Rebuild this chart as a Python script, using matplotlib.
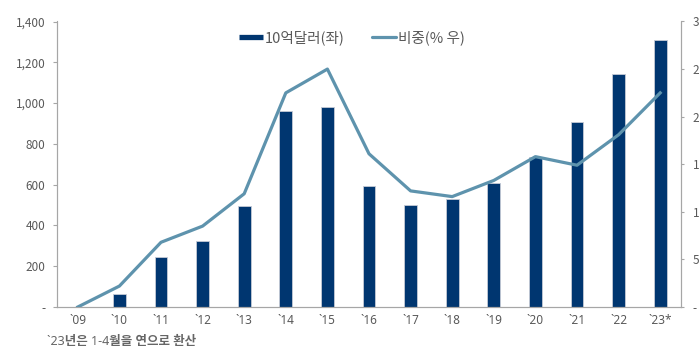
import matplotlib
matplotlib.use("Agg")
import matplotlib.pyplot as plt
from matplotlib.lines import Line2D

plt.rcParams['font.family'] = ['Noto Sans CJK KR', 'DejaVu Sans']

categories = ["`09", "`10", "`11", "`12", "`13", "`14", "`15", "`16", "`17", "`18",
              "`19", "`20", "`21", "`22", "`23*"]
amount = [0, 64, 245, 325, 495, 962, 982, 594, 500, 531, 606, 737, 905, 1141, 1310]
share = [0, 2.2, 6.8, 8.5, 11.9, 22.5, 25.0, 16.1, 12.2, 11.6, 13.3, 15.8, 14.9, 18.1, 22.5]
left_ticks = [0, 200, 400, 600, 800, 1000, 1200, 1400]
left_labels = ["-", "200", "400", "600", "800", "1,000", "1,200", "1,400"]
right_ticks = [0, 5, 10, 15, 20, 25, 30]
right_labels = ["-", "5", "10", "15", "20", "25", "30"]

bar_color = '#003670'
line_color = '#5e93ad'
text_color = '#595959'
spine_color = '#a6a6a6'

fig = plt.figure(figsize=(6.99, 3.6), dpi=100)
ax = fig.add_axes([57/699, 1-307/360, (681-57)/699, (307-21.5)/360])
x = list(range(len(categories)))
ax.bar(x, amount, width=0.31, color=bar_color, edgecolor='#c5cad6', linewidth=0.6, zorder=2)
ax.set_xlim(-0.5, len(categories)-0.5)
ax.set_ylim(0, 1400)
ax.set_yticks(left_ticks)
ax.set_yticklabels(left_labels)
ax.set_xticks(x)
ax.set_xticklabels(categories, family=['Noto Sans', 'DejaVu Sans'])

ax2 = ax.twinx()
ax2.plot(x, share, color=line_color, linewidth=2.3, zorder=3)
ax2.set_ylim(0, 30)
ax2.set_yticks(right_ticks)
ax2.set_yticklabels(right_labels)

for a in (ax, ax2):
    a.spines['top'].set_visible(False)
    for s in ('left', 'right', 'bottom'):
        a.spines[s].set_color(spine_color)
        a.spines[s].set_linewidth(0.8)
ax.tick_params(axis='y', length=3, width=0.8, color=spine_color, pad=5.5,
               labelsize=8.5, labelcolor=text_color)
ax.tick_params(axis='x', length=0, pad=5, labelsize=8.5, labelcolor=text_color)
ax2.tick_params(axis='y', length=2, width=0.8, color=spine_color, pad=6.5,
                labelsize=8.5, labelcolor=text_color)
ax2.patch.set_visible(False)

handles = [Line2D([0], [0], color=bar_color, linewidth=3.8, solid_capstyle='butt'),
           Line2D([0], [0], color=line_color, linewidth=2.3, solid_capstyle='round')]
leg = fig.legend(handles, ["10억달러(좌)", "비중(% 우)"], ncol=2, frameon=False,
                 loc='center', bbox_to_anchor=(352/699, 1-38/360),
                 fontsize=10.5, handlelength=1.6, handletextpad=0.15, columnspacing=1.9)
for t in leg.get_texts():
    t.set_color(text_color)

fig.text(47/699, 1-342/360, "`23년은 1-4월을 연으로 환산", fontsize=9, fontweight='semibold',
         family=['Noto Sans', 'Noto Sans CJK KR'],
         color='#666666', va='center', ha='left')

fig.savefig("out.png", dpi=100)
